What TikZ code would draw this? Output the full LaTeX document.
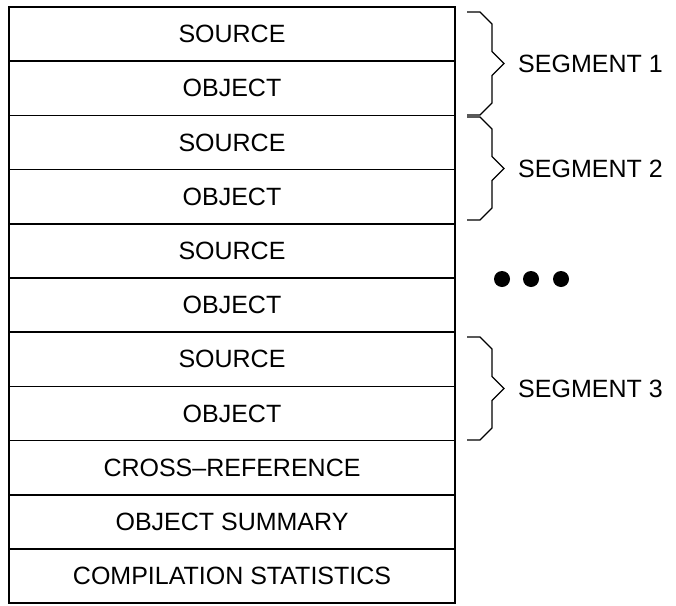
\documentclass[tikz,border=0pt]{standalone}
\usepackage{fontspec}
\setmainfont{Liberation Sans}
\usetikzlibrary{positioning}

\begin{document}
\begin{tikzpicture}[x=1pt, y=-1pt, node distance=0pt,
  row/.style={draw, rectangle, line width=1.6pt, minimum width=446pt, minimum height=54.2pt, inner sep=0pt, outer sep=0pt, font=\fontsize{25}{30}\selectfont},
  seglabel/.style={anchor=west, inner sep=0pt, font=\fontsize{25}{30}\selectfont},
  brace/.style={line width=1.3pt, line join=miter}]
\useasboundingbox (0,0) rectangle (676,605);
% the listing, one row per part
\node[row] (src1) at (232,34.1) {SOURCE};
\node[row, below=of src1] (obj1) {OBJECT};
\node[row, below=of obj1] (src2) {SOURCE};
\node[row, below=of src2] (obj2) {OBJECT};
\node[row, below=of obj2] (src3) {SOURCE};
\node[row, below=of src3] (obj3) {OBJECT};
\node[row, below=of obj3] (src4) {SOURCE};
\node[row, below=of src4] (obj4) {OBJECT};
\node[row, below=of obj4] (xref) {CROSS–REFERENCE};
\node[row, below=of xref] (summ) {OBJECT SUMMARY};
\node[row, below=of summ] (stat) {COMPILATION STATISTICS};
% braces and segment names
\foreach \t/\n in {12/1, 117/2, 337/3}{
  \draw[brace] (467,\t) -- ++(13,0) -- ++(12,12) -- ++(0,27.5) -- ++(12,12) -- ++(-12,12) -- ++(0,27.5) -- ++(-12,12) -- ++(-13,0);
  \node[seglabel] (seg\n) at (518,\t+51.5) {SEGMENT \n};
}
% dots
\foreach \x in {502,531,561}
  \fill (\x,279) circle (8pt);
\end{tikzpicture}
\end{document}
